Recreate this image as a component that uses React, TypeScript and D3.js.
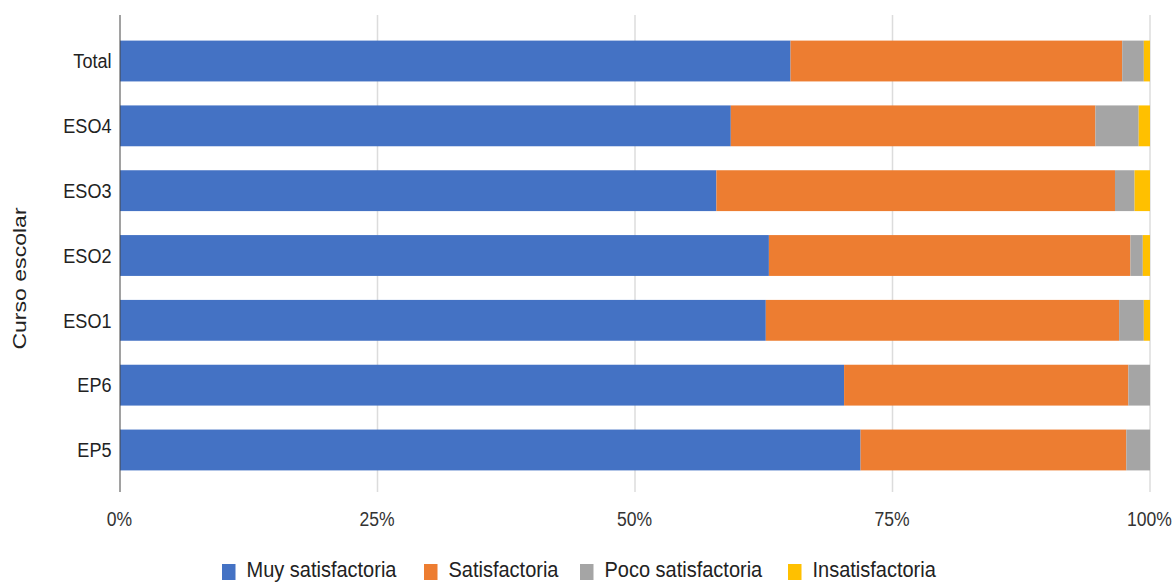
import React from "react";
import * as d3 from "d3";

const categories = ["Total", "ESO4", "ESO3", "ESO2", "ESO1", "EP6", "EP5"];
const seriesNames = ["Muy satisfactoria", "Satisfactoria", "Poco satisfactoria", "Insatisfactoria"];
const seriesColors = ["#4472C4", "#ED7D31", "#A5A5A5", "#FFC000"];
const muySatisfactoria = [65.1, 59.3, 57.9, 63.0, 62.7, 70.3, 71.9];
const satisfactoria = [32.2, 35.4, 38.7, 35.1, 34.3, 27.6, 25.8];
const pocoSatisfactoria = [2.1, 4.2, 1.9, 1.2, 2.4, 2.1, 2.3];
const insatisfactoria = [0.6, 1.1, 1.5, 0.7, 0.6, 0, 0];
const xTicks = [0, 25, 50, 75, 100];
const yAxisTitle = "Curso escolar";

const W = 1176;
const H = 582;

export default function App() {
  const series = [muySatisfactoria, satisfactoria, pocoSatisfactoria, insatisfactoria];
  const rows = categories.map((c, i) => {
    const total = series.reduce((s, arr) => s + arr[i], 0);
    const o: any = { cat: c };
    seriesNames.forEach((n, k) => (o[n] = (series[k][i] / total) * 100));
    return o;
  });
  const stacked = d3.stack<any>().keys(seriesNames)(rows);

  const x = d3.scaleLinear().domain([0, 100]).range([120, 1150]);
  const y = d3.scaleBand().domain(categories).range([28.6, 482.4]).paddingInner(0.37).paddingOuter(0.185);

  const legendX = [222, 424, 580, 788];

  return (
    <svg width={W} height={H} style={{ position: "absolute", left: 0, top: 0, background: "#fff" }}
      fontFamily="'Liberation Sans', Arial, sans-serif">
      {xTicks.slice(1).map((t) => (
        <line key={t} x1={x(t)} x2={x(t)} y1={15} y2={492} stroke="#dcdcdc" strokeWidth={1.5} />
      ))}
      {stacked.map((s, k) => (
        <g key={s.key} fill={seriesColors[k]}>
          {s.map((d, i) => (
            <rect key={i} x={x(d[0])} y={y(categories[i])!} width={Math.max(0, x(d[1]) - x(d[0]))}
              height={y.bandwidth()} />
          ))}
        </g>
      ))}
      <line x1={x(0)} x2={x(0)} y1={15} y2={492} stroke="#444" strokeWidth={1} />
      {xTicks.map((t) => (
        <text key={t} transform={`translate(${x(t) - 0.5},525.5) scale(0.9,1)`} textAnchor="middle" fontSize={19.5} fill="#333">{t + "%"}</text>
      ))}
      {categories.map((c) => (
        <text key={c} transform={`translate(111.5,${y(c)! + y.bandwidth() / 2 + 7.2}) scale(0.86,1)`} textAnchor="end" fontSize={21} fill="#222">{c}</text>
      ))}
      <text transform={`translate(26,278.5) rotate(-90) scale(1.24,1)`} textAnchor="middle" fontSize={18.6} fill="#222">{yAxisTitle}</text>
      {seriesNames.map((n, k) => (
        <g key={n}>
          <rect x={legendX[k]} y={564} width={13.5} height={16} fill={seriesColors[k]} />
          <text transform={`translate(${legendX[k] + 24.5},577) scale(0.93,1)`} fontSize={21.5} fill="#222">{n}</text>
        </g>
      ))}
    </svg>
  );
}
